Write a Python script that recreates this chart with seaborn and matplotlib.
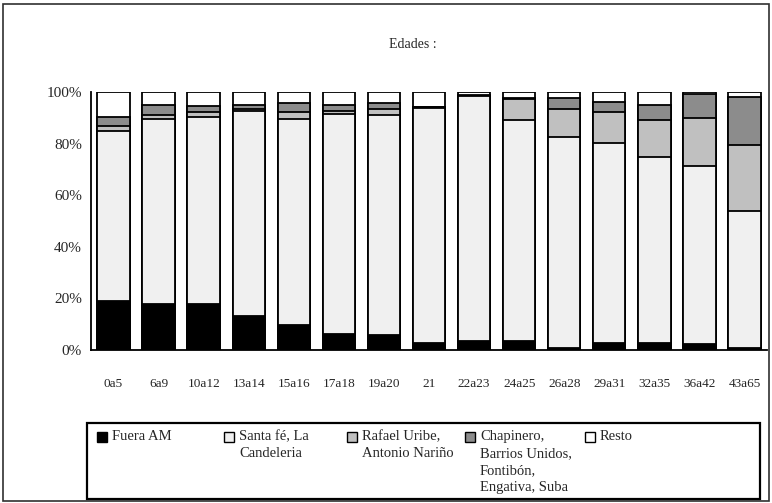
import numpy as np
import pandas as pd
import matplotlib
matplotlib.use("Agg")
import matplotlib.pyplot as plt
from matplotlib.patches import Rectangle
import seaborn as sns

# age groups and share (%) of each origin zone
edades = ['0a5', '6a9', '10a12', '13a14', '15a16', '17a18', '19a20', '21',
          '22a23', '24a25', '26a28', '29a31', '32a35', '36a42', '43a65']
fuera_am = [19.0, 18.0, 18.0, 13.3, 9.6, 6.1, 5.7, 2.6, 3.4, 3.4, 0.9, 2.6, 2.6, 2.2, 0.9]
santa_fe = [66.0, 71.4, 72.3, 79.3, 79.8, 85.5, 85.2, 91.1, 95.0, 85.7, 81.8, 77.5, 72.3, 69.1, 53.0]
rafael = [2.0, 1.5, 2.0, 1.0, 3.0, 1.2, 2.5, 0.3, 0.2, 8.2, 10.7, 12.0, 14.2, 18.5, 25.6]
chapinero = [3.5, 4.0, 2.4, 1.2, 3.2, 2.0, 2.2, 0.2, 0.1, 0.3, 4.2, 4.1, 5.8, 9.3, 18.7]
resto = [9.5, 5.1, 5.3, 5.2, 4.4, 5.2, 4.4, 5.8, 1.3, 2.4, 2.4, 3.8, 5.1, 0.9, 1.8]

series = ['Fuera AM', 'Santa fé, La\nCandeleria', 'Rafael Uribe,\nAntonio Nariño',
          'Chapinero,\nBarrios Unidos,\nFontibón,\nEngativa, Suba', 'Resto']
colores = ['#000000', '#f0f0f0', '#c0c0c0', '#8c8c8c', '#ffffff']

df = pd.DataFrame({'edad': edades, 's0': fuera_am, 's1': santa_fe, 's2': rafael,
                   's3': chapinero, 's4': resto})
cum = df[['s0', 's1', 's2', 's3', 's4']].cumsum(axis=1)

sns.set_style('white')
plt.rcParams['font.family'] = ['Liberation Serif', 'DejaVu Serif']

W, H = 772, 503
fig = plt.figure(figsize=(W / 100, H / 100), dpi=100)
ax = fig.add_axes([91 / W, 1 - 350 / H, (767 - 91) / W, (350 - 92) / H])

# stacked bars: draw cumulative totals from top down
for i in range(4, -1, -1):
    sns.barplot(x=df['edad'], y=cum['s%d' % i], color=colores[i], saturation=1,
                edgecolor='black', linewidth=1.3, width=0.72, ax=ax, order=edades)

ax.set_xlim(-0.5, len(edades) - 0.5)
ax.set_ylim(0, 100)
ax.set_yticks([0, 20, 40, 60, 80, 100])
ax.set_yticklabels(['0%', '20%', '40%', '60%', '80%', '100%'], fontsize=11)
ax.set_xticks(range(len(edades)))
ax.set_xticklabels(edades, fontsize=9.5)
ax.set_xticks(np.arange(-0.5, len(edades)), minor=True)
ax.tick_params(axis='x', which='major', length=0, pad=20)
ax.tick_params(axis='x', which='minor', direction='inout', length=7, width=1.3, color='black')
ax.tick_params(axis='y', direction='inout', length=7, width=1.3, color='black', pad=3)
ax.set_xlabel('')
ax.set_ylabel('')
for s in ['top', 'right']:
    ax.spines[s].set_visible(False)
for s in ['left', 'bottom']:
    ax.spines[s].set_color('black')
    ax.spines[s].set_linewidth(1.3)

fig.text(413 / W, 1 - 45 / H, 'Edades :', ha='center', va='center', fontsize=10)

# outer frame
fig.patches.append(Rectangle((3 / W, 2 / H), (769 - 3) / W, (499 - 2) / H,
                             transform=fig.transFigure, fill=False,
                             edgecolor='#303030', linewidth=1.2))
# legend box
fig.patches.append(Rectangle((87 / W, 1 - 499 / H), (760 - 87) / W, (499 - 423) / H,
                             transform=fig.transFigure, fill=False,
                             edgecolor='black', linewidth=1.6))
hx = [97, 224, 347, 465, 585]
for i, lab in enumerate(series):
    fig.patches.append(Rectangle((hx[i] / W, 1 - 442 / H), 10 / W, 10 / H,
                                 transform=fig.transFigure, facecolor=colores[i],
                                 edgecolor='black', linewidth=1.0))
    fig.text((hx[i] + 15) / W, 1 - 430 / H, lab, ha='left', va='top',
             fontsize=10.5, linespacing=1.4)

fig.savefig('out.png', dpi=100)
